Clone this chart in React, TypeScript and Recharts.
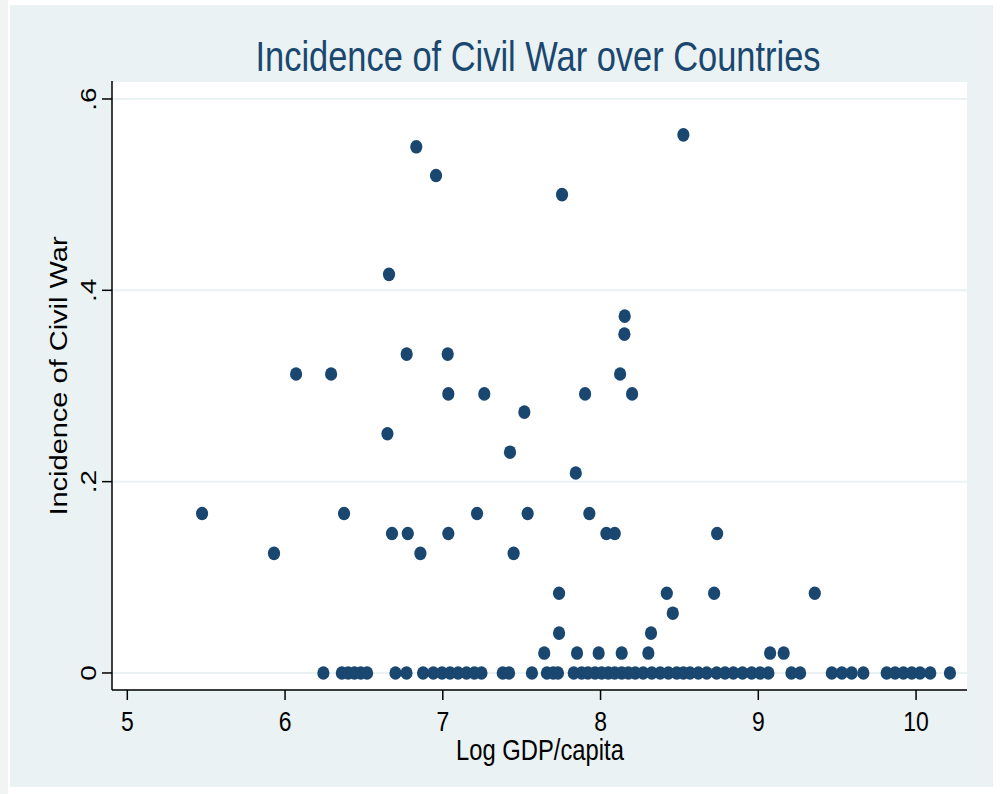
import React from "react";
import { ScatterChart, Scatter, XAxis, YAxis, CartesianGrid } from "recharts";

// Countries with some civil war incidence: log GDP per capita and incidence
const warGdp = [
  5.474, 5.93, 6.07, 6.292, 6.374, 6.649, 6.659, 6.678, 6.771, 6.778, 6.832, 6.858,
  6.957, 7.031, 7.035, 7.035, 7.217, 7.263, 7.426, 7.449, 7.517, 7.538, 7.643, 7.737,
  7.737, 7.756, 7.843, 7.851, 7.902, 7.929, 7.988, 8.037, 8.09, 8.124, 8.134, 8.151,
  8.153, 8.2, 8.303, 8.32, 8.42, 8.458, 8.525, 8.72, 8.739, 9.075, 9.161, 9.358,
];
const warIncidence = [
  0.1667, 0.125, 0.3125, 0.3125, 0.1667, 0.25, 0.4167, 0.1458, 0.3333, 0.1458, 0.55, 0.125,
  0.52, 0.3333, 0.2917, 0.1458, 0.1667, 0.2917, 0.2308, 0.125, 0.2727, 0.1667, 0.0208, 0.0833,
  0.0417, 0.5, 0.209, 0.0208, 0.2917, 0.1667, 0.0208, 0.1458, 0.1458, 0.3125, 0.0208, 0.3542,
  0.373, 0.2917, 0.0208, 0.0417, 0.0833, 0.0625, 0.5625, 0.0833, 0.1458, 0.0208, 0.0208, 0.0833,
];
// Countries with zero incidence: log GDP per capita
const peaceGdp = [
  6.243, 6.36, 6.4, 6.44, 6.48, 6.52, 6.7, 6.77, 6.875, 6.94, 6.995, 7.046, 7.097, 7.15,
  7.2, 7.245, 7.38, 7.42, 7.565, 7.66, 7.7, 7.73, 7.83, 7.88, 7.92, 7.965, 8.007, 8.049,
  8.09, 8.134, 8.176, 8.22, 8.27, 8.325, 8.378, 8.43, 8.483, 8.525, 8.567, 8.62, 8.673,
  8.736, 8.789, 8.842, 8.9, 8.958, 9.011, 9.064, 9.21, 9.265, 9.466, 9.53, 9.592, 9.666,
  9.814, 9.867, 9.92, 9.973, 10.025, 10.09, 10.215,
];

const xTicks = [5, 6, 7, 8, 9, 10];
const yTicks = [0, 0.2, 0.4, 0.6];
const yTickLabels = ["0", ".2", ".4", ".6"];

const TITLE = "Incidence of Civil War over Countries";
const X_TITLE = "Log GDP/capita";
const Y_TITLE = "Incidence of Civil War";

const points = [
  ...warGdp.map((g, i) => ({ gdp: g, war: warIncidence[i] })),
  ...peaceGdp.map((g) => ({ gdp: g, war: 0 })),
];

const NAVY = "#1A476F";
const BG = "#EAF2F3";
const FONT = "'Liberation Sans', Arial, sans-serif";
const SQUEEZE = 0.82;

function HText(props: any) {
  const { x, y, size, fill = "#000", anchor = "middle", children } = props;
  return (
    <text
      transform={`translate(${x},${y}) scale(${SQUEEZE},1)`}
      textAnchor={anchor}
      fontSize={size}
      fontFamily={FONT}
      fill={fill}
    >
      {children}
    </text>
  );
}

function VText(props: any) {
  const { x, y, size, fill = "#000", children } = props;
  return (
    <text
      transform={`translate(${x},${y}) scale(${SQUEEZE},1) rotate(-90)`}
      textAnchor="middle"
      fontSize={size}
      fontFamily={FONT}
      fill={fill}
    >
      {children}
    </text>
  );
}

const XTick = (props: any) => {
  const { x, payload } = props;
  return <HText x={x} y={731} size={28}>{String(payload.value)}</HText>;
};

const YTick = (props: any) => {
  const { y, payload } = props;
  const idx = yTicks.indexOf(payload.value);
  return <VText x={96} y={y} size={28}>{yTickLabels[idx] ?? String(payload.value)}</VText>;
};

const Dot = (props: any) => {
  const { cx, cy } = props;
  if (cx == null || cy == null) return null;
  return <ellipse cx={cx} cy={cy} rx={6.1} ry={6.8} fill={NAVY} />;
};

export default function App() {
  return (
    <div style={{ position: "absolute", left: 0, top: 0, width: 1000, height: 794, background: "#FFFFFF", overflow: "hidden" }}>
      <div style={{ position: "absolute", left: 0, top: 0, width: 8, height: 794, background: "#F2F4F4" }} />
      <div style={{ position: "absolute", left: 10, top: 5, width: 983, height: 782, background: BG }} />
      <div style={{ position: "absolute", left: 0, top: 0 }}>
        <ScatterChart
          width={1000}
          height={794}
          margin={{ top: 81, right: 33, bottom: 44, left: 52 }}
        >
          <CartesianGrid
            vertical={false}
            stroke={BG}
            strokeWidth={2}
            fill="#FFFFFF"
            fillOpacity={1}
          />
          <XAxis
            type="number"
            dataKey="gdp"
            domain={[4.903, 10.323]}
            ticks={xTicks}
            interval={0}
            allowDataOverflow
            height={60}
            tickSize={10}
            axisLine={{ stroke: "#000", strokeWidth: 1.5 }}
            tickLine={{ stroke: "#000", strokeWidth: 1.5 }}
            tick={<XTick />}
          />
          <YAxis
            type="number"
            dataKey="war"
            domain={[-0.0178, 0.6188]}
            ticks={yTicks}
            interval={0}
            allowDataOverflow
            width={60}
            tickSize={10}
            axisLine={{ stroke: "#000", strokeWidth: 1.5 }}
            tickLine={{ stroke: "#000", strokeWidth: 1.5 }}
            tick={<YTick />}
          />
          <Scatter data={points} fill={NAVY} shape={<Dot />} isAnimationActive={false} />
        </ScatterChart>
      </div>
      <svg
        width={1000}
        height={794}
        style={{ position: "absolute", left: 0, top: 0, pointerEvents: "none" }}
      >
        <HText x={538} y={71} size={42} fill={NAVY}>{TITLE}</HText>
        <HText x={540} y={760} size={29}>{X_TITLE}</HText>
        <VText x={67} y={376} size={29}>{Y_TITLE}</VText>
      </svg>
    </div>
  );
}
